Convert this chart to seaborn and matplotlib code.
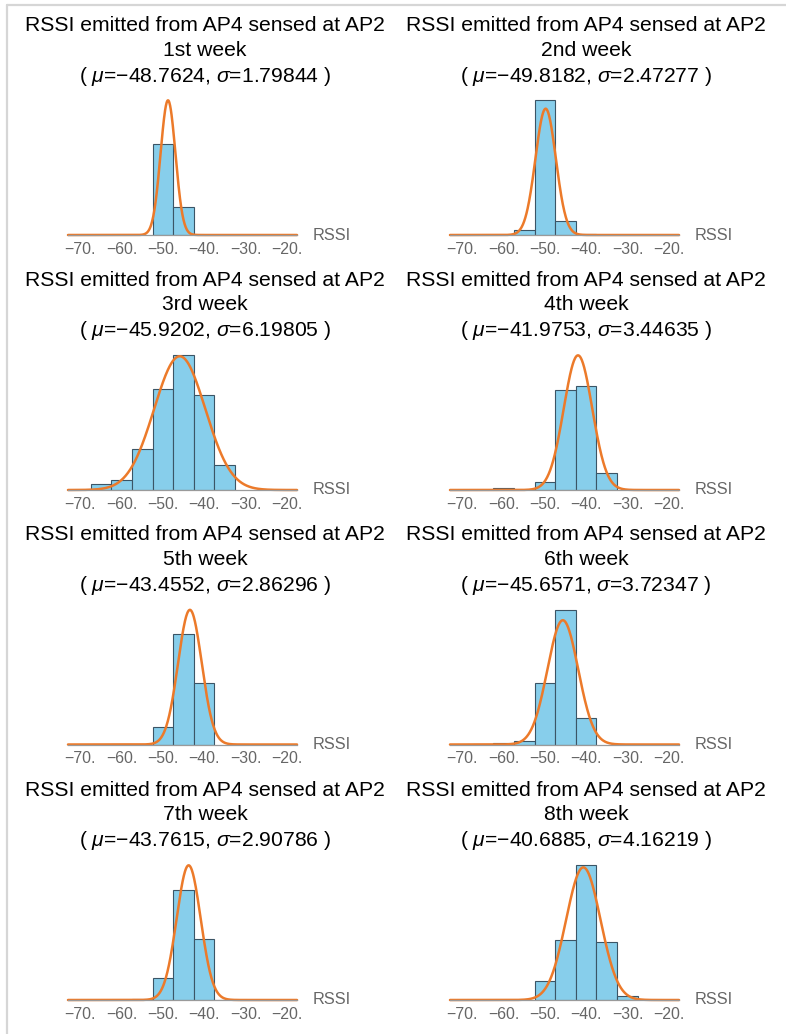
import numpy as np
import pandas as pd
import matplotlib
matplotlib.use("Agg")
import matplotlib.pyplot as plt
import seaborn as sns

sns.set_theme(style="white")
plt.rcParams["font.family"] = ["Liberation Sans", "DejaVu Sans"]
plt.rcParams["mathtext.fontset"] = "custom"
plt.rcParams["mathtext.rm"] = "Liberation Sans"
plt.rcParams["mathtext.it"] = "Liberation Sans:italic"

# bin centres of the histograms (bin width 5)
centers = [-70, -65, -60, -55, -50, -45, -40, -35, -30, -25, -20]
tick_vals = [-70, -60, -50, -40, -30, -20]
tick_labels = ["\u221270.", "\u221260.", "\u221250.", "\u221240.", "\u221230.", "\u221220."]

weeks = ["1st week", "2nd week", "3rd week", "4th week",
         "5th week", "6th week", "7th week", "8th week"]
mus = [-48.7624, -49.8182, -45.9202, -41.9753, -43.4552, -45.6571, -43.7615, -40.6885]
sigmas = [1.79844, 2.47277, 6.19805, 3.44635, 2.86296, 3.72347, 2.90786, 4.16219]

# probability density per bin
w1 = [0, 0, 0, 0, 0.1506, 0.0466, 0, 0, 0, 0, 0]
w2 = [0, 0, 0, 0.0064, 0.1720, 0.0183, 0.0013, 0.0004, 0, 0, 0]
w3 = [0, 0.0029, 0.0050, 0.0196, 0.0486, 0.0648, 0.0457, 0.0121, 0, 0, 0]
w4 = [0, 0, 0.0017, 0, 0.0068, 0.0860, 0.0897, 0.0145, 0, 0, 0]
w5 = [0, 0, 0.0005, 0, 0.0186, 0.1142, 0.0635, 0, 0, 0, 0]
w6 = [0, 0.0003, 0.0012, 0.0029, 0.0530, 0.1161, 0.0228, 0, 0, 0, 0]
w7 = [0, 0, 0, 0.0007, 0.0227, 0.1121, 0.0620, 0.0003, 0, 0, 0]
w8 = [0, 0, 0, 0, 0.0135, 0.0432, 0.0973, 0.0416, 0.0026, 0, 0]
densities = [w1, w2, w3, w4, w5, w6, w7, w8]

W, H = 786, 1034
fig = plt.figure(figsize=(W / 100, H / 100), dpi=100)

bar_color = "#87CEEB"
edge_color = "#3b5566"
curve_color = "#EC7A2A"
gray = "#666666"

col_x = [68, 450]
col_center = [205, 586]
baselines = [235, 490, 744.5, 1000]
ax_w, ax_h = 229, 136
xlim = (-73, -17.5)

for i in range(8):
    r, c = divmod(i, 2)
    base = baselines[r]
    ax = fig.add_axes([col_x[c] / W, 1 - base / H, ax_w / W, ax_h / H])

    df = pd.DataFrame({"x": centers, "d": densities[i]})
    df = df[df["d"] > 0]
    lo, hi = df["x"].min() - 2.5, df["x"].max() + 2.5
    sns.histplot(data=df, x="x", weights="d", binwidth=5, binrange=(lo, hi),
                 stat="count", ax=ax, color=bar_color, alpha=1,
                 edgecolor=edge_color, linewidth=0.8)

    xs = np.linspace(xlim[0], xlim[1], 600)
    ys = np.exp(-0.5 * ((xs - mus[i]) / sigmas[i]) ** 2) / (sigmas[i] * np.sqrt(2 * np.pi))
    sns.lineplot(x=xs, y=ys, ax=ax, color=curve_color, linewidth=1.8, clip_on=False)

    ymax = max(max(densities[i]), ys.max())
    ax.set_xlim(*xlim)
    ax.set_ylim(0, ymax * 1.01)
    for s in ["left", "right", "top"]:
        ax.spines[s].set_visible(False)
    ax.spines["bottom"].set_color("#9a9a9a")
    ax.spines["bottom"].set_linewidth(0.9)
    ax.set_yticks([])
    ax.set_xticks(tick_vals)
    ax.set_xticklabels(tick_labels)
    ax.tick_params(axis="x", direction="in", length=3, width=0.8, color="#9a9a9a",
                   labelsize=11.4, labelcolor=gray, pad=5)
    ax.set_xlabel("")
    ax.set_ylabel("")
    ax.patch.set_alpha(0)
    ax.annotate("RSSI", xy=(1, 0), xycoords=("axes fraction", "data"),
                xytext=(16, 0), textcoords="offset pixels",
                ha="left", va="center", fontsize=11.7, color=gray)

    tx = col_center[c] / W
    top = base - 204
    fig.text(tx, 1 - top / H, "RSSI emitted from AP4 sensed at AP2",
             ha="center", va="baseline", fontsize=15.2, color="black")
    fig.text(tx, 1 - (top + 24.5) / H, weeks[i],
             ha="center", va="baseline", fontsize=15.2, color="black")
    fig.text(tx, 1 - (top + 50.5) / H,
             "( $\\mu$=\u2212%s, $\\sigma$=%s )" % (f"{abs(mus[i]):g}", f"{sigmas[i]:g}"),
             ha="center", va="baseline", fontsize=15.2, color="black")

# notebook cell frame
fig.add_artist(plt.Line2D([7 / W, 7 / W], [0, 1 - 5 / H], transform=fig.transFigure,
                          color="#d6d6d6", linewidth=1.6))
fig.add_artist(plt.Line2D([7 / W, 1], [1 - 5 / H, 1 - 5 / H], transform=fig.transFigure,
                          color="#d6d6d6", linewidth=1.6))

fig.savefig("out.png", dpi=100)
